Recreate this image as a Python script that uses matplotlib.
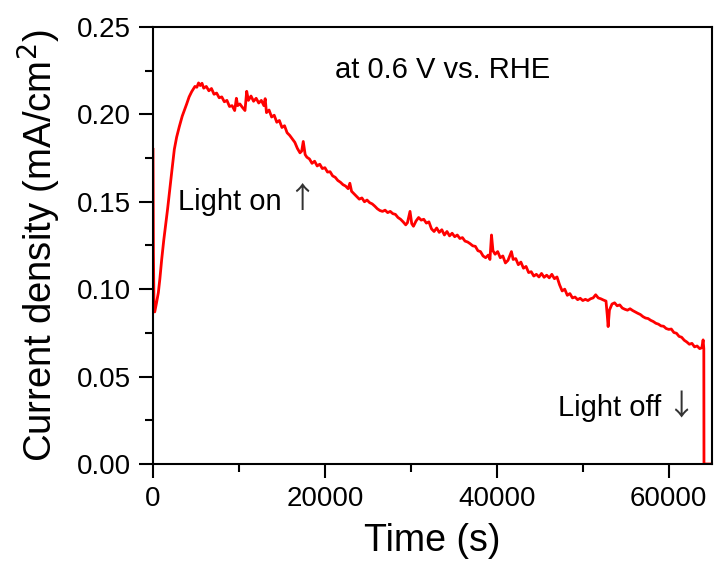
import matplotlib
matplotlib.use("Agg")
import matplotlib.pyplot as plt
from matplotlib.ticker import MultipleLocator

plt.rcParams['font.family'] = ['Liberation Sans', 'DejaVu Sans']

# photocurrent trace (time in s, current density in mA/cm2)
time_s = [
    0, 50, 120, 200, 400, 620, 800, 1010, 1250, 1500, 1700, 1900, 2200, 2480,
    2750, 3060, 3400, 3700, 3920, 4200, 4500, 4880, 5100, 5300, 5500, 5700,
    5900, 6200, 6500, 6800, 7100, 7400, 7700, 8000, 8300, 8600, 8900, 9200,
    9500, 9700, 9850, 10100, 10400, 10700, 10900, 11100, 11400, 11700, 12000,
    12300, 12600, 12900, 13050, 13200, 13500, 13800, 14100, 14400, 14700,
    15000, 15300, 15600, 15900, 16200, 16500, 16800, 17100, 17300, 17480,
    17700, 17900, 18200, 18500, 18800, 19100, 19400, 19700, 20000, 20300,
    20600, 20900, 21200, 21500, 21800, 22100, 22400, 22700, 22900, 23100,
    23400, 23700, 24000, 24300, 24600, 24900, 25200, 25500, 25800, 26100,
    26400, 26700, 27000, 27300, 27600, 27900, 28200, 28500, 28800, 29100,
    29400, 29600, 29900, 30100, 30300, 30600, 30900, 31200, 31500, 31800,
    32100, 32400, 32700, 33000, 33300, 33600, 33900, 34200, 34500, 34800,
    35100, 35400, 35700, 36000, 36300, 36600, 36900, 37200, 37500, 37800,
    38100, 38400, 38700, 39000, 39200, 39380, 39550, 39800, 40100, 40400,
    40700, 41000, 41300, 41700, 41900, 42200, 42500, 42800, 43100, 43400,
    43700, 44000, 44300, 44600, 44900, 45200, 45500, 45800, 46100, 46400,
    46700, 47000, 47300, 47600, 47900, 48200, 48500, 48800, 49100, 49400,
    49700, 50000, 50300, 50600, 50900, 51200, 51500, 51800, 52100, 52400,
    52700, 52850, 52950, 53100, 53400, 53700, 54000, 54300, 54600, 54900,
    55200, 55500, 55800, 56100, 56400, 56700, 57000, 57300, 57600, 57900,
    58200, 58500, 58800, 59100, 59400, 59700, 60000, 60300, 60600, 60900,
    61200, 61500, 61800, 62100, 62400, 62700, 63000, 63300, 63600, 63850,
    64000, 64080, 64100, 65000,
]
current = [
    0.180, 0.120, 0.088, 0.087, 0.092, 0.098, 0.106, 0.117, 0.128, 0.138,
    0.146, 0.155, 0.168, 0.180, 0.187, 0.193, 0.199, 0.203, 0.206, 0.210,
    0.213, 0.216, 0.2155, 0.218, 0.2165, 0.2178, 0.2150, 0.2160, 0.2135,
    0.2148, 0.2115, 0.2122, 0.2095, 0.2100, 0.2072, 0.2080, 0.2045, 0.2050,
    0.2022, 0.2092, 0.2050, 0.2060, 0.2040, 0.2022, 0.2132, 0.2080, 0.2105,
    0.2075, 0.2092, 0.2065, 0.2080, 0.2050, 0.2090, 0.2010, 0.2025, 0.1985,
    0.1995, 0.1955, 0.1965, 0.1925, 0.1935, 0.1895, 0.1880, 0.1860, 0.1840,
    0.1805, 0.1780, 0.1790, 0.1845, 0.1770, 0.1755, 0.1745, 0.1720, 0.1732,
    0.1705, 0.1715, 0.1690, 0.1695, 0.1670, 0.1672, 0.1648, 0.1640, 0.1622,
    0.1612, 0.1598, 0.1590, 0.1575, 0.1606, 0.1560, 0.1545, 0.1530, 0.1515,
    0.1522, 0.1500, 0.1510, 0.1495, 0.1488, 0.1475, 0.1460, 0.1450, 0.1445,
    0.1452, 0.1438, 0.1445, 0.1432, 0.1428, 0.1410, 0.1400, 0.1385, 0.1368,
    0.1380, 0.1445, 0.1375, 0.1360, 0.1390, 0.1410, 0.1395, 0.1400, 0.1378,
    0.1385, 0.1345, 0.1330, 0.1350, 0.1325, 0.1340, 0.1310, 0.1330, 0.1305,
    0.1320, 0.1300, 0.1310, 0.1290, 0.1295, 0.1275, 0.1270, 0.1260, 0.1248,
    0.1245, 0.1220, 0.1215, 0.1190, 0.1180, 0.1195, 0.1170, 0.1310, 0.1220,
    0.1200, 0.1215, 0.1180, 0.1190, 0.1150, 0.1165, 0.1215, 0.1170, 0.1175,
    0.1140, 0.1155, 0.1120, 0.1130, 0.1095, 0.1100, 0.1075, 0.1085, 0.1070,
    0.1090, 0.1068, 0.1080, 0.1065, 0.1085, 0.1060, 0.1070, 0.1025, 0.0990,
    0.1000, 0.0965, 0.0975, 0.0950, 0.0955, 0.0940, 0.0948, 0.0935, 0.0942,
    0.0935, 0.0945, 0.0950, 0.0968, 0.0950, 0.0945, 0.0938, 0.0932, 0.0850,
    0.0786, 0.0880, 0.0915, 0.0922, 0.0905, 0.0910, 0.0892, 0.0885, 0.0880,
    0.0888, 0.0878, 0.0870, 0.0862, 0.0855, 0.0843, 0.0835, 0.0832, 0.0822,
    0.0815, 0.0805, 0.0800, 0.0790, 0.0788, 0.0775, 0.0770, 0.0772, 0.0752,
    0.0748, 0.0730, 0.0725, 0.0708, 0.0698, 0.0685, 0.0690, 0.0670, 0.0675,
    0.0660, 0.0665, 0.0710, 0.0660, 0.0, 0.0,
]

fig = plt.figure(figsize=(7.14, 5.62), dpi=100)
ax = fig.add_axes([0.2143, 0.1744, 0.7825, 0.7776])

ax.plot(time_s, current, color='#ff0000', lw=2.0)

ax.set_xlim(0, 65000)
ax.set_ylim(0, 0.25)
ax.xaxis.set_major_locator(MultipleLocator(20000))
ax.xaxis.set_minor_locator(MultipleLocator(10000))
ax.yaxis.set_major_locator(MultipleLocator(0.05))
ax.yaxis.set_minor_locator(MultipleLocator(0.025))
ax.yaxis.set_major_formatter(matplotlib.ticker.FormatStrFormatter('%.2f'))

for s in ax.spines.values():
    s.set_linewidth(1.5)
ax.tick_params(which='major', direction='out', length=10, width=1.5,
               top=False, right=False, labelsize=20, pad=6)
ax.tick_params(which='minor', direction='out', length=6, width=1.5,
               top=False, right=False)

ax.set_xlabel('Time (s)', fontsize=27, labelpad=8)
ax.set_ylabel('Current density (mA/cm$^2$)', fontsize=27.5, labelpad=10)

ax.text(21200, 0.2254, 'at 0.6 V vs. RHE', fontsize=21, va='center')

# labels with tall thin arrows drawn from a CJK font
t_on = ax.text(2900, 0.150, 'Light on', fontsize=21, va='center')
ax.annotate('\u2191', xy=(1, 0.5), xycoords=t_on, xytext=(4, 1),
            textcoords='offset points', fontsize=21, va='center',
            family=['Noto Sans CJK SC', 'DejaVu Sans'], color='#333333')
t_off = ax.text(47100, 0.032, 'Light off', fontsize=21, va='center')
ax.annotate('\u2193', xy=(1, 0.5), xycoords=t_off, xytext=(4, 1),
            textcoords='offset points', fontsize=21, va='center',
            family=['Noto Sans CJK SC', 'DejaVu Sans'], color='#333333')

fig.savefig('out.png', dpi=100)
